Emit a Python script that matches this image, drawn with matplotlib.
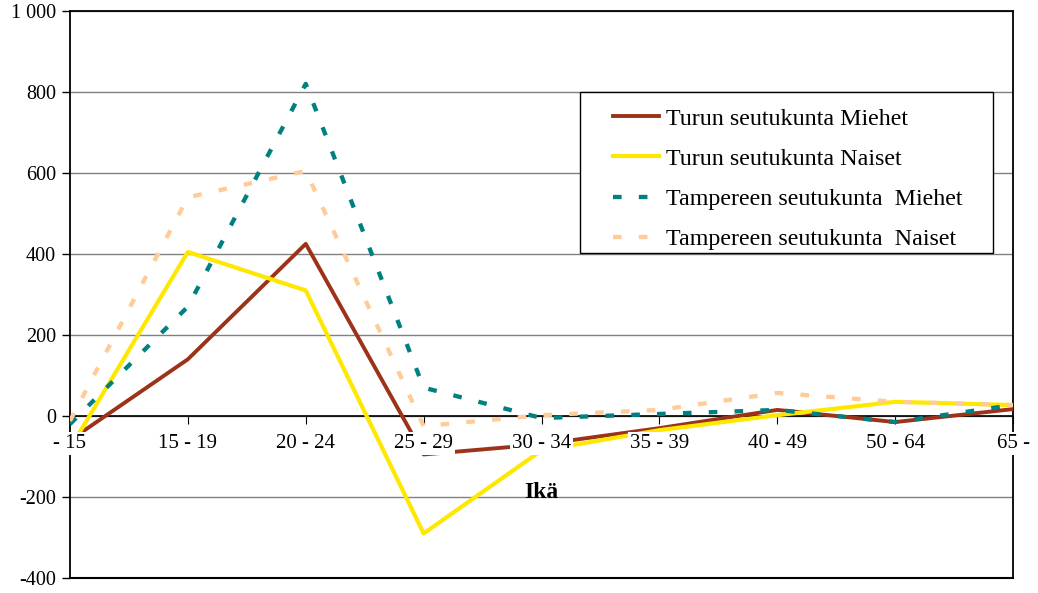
import matplotlib
matplotlib.use("Agg")
import matplotlib.pyplot as plt
from matplotlib.patches import Rectangle
import numpy as np

ages = ['- 15', '15 - 19', '20 - 24', '25 - 29', '30 - 34', '35 - 39', '40 - 49', '50 - 64', '65 -']
turku_men = [-60, 140, 425, -95, -70, -30, 15, -15, 17]
turku_women = [-80, 405, 310, -290, -85, -35, 2, 35, 27]
tampere_men = [-20, 270, 820, 70, -5, 5, 15, -15, 27]
tampere_women = [-12, 540, 605, -25, 2, 15, 57, 35, 27]
series_labels = ['Turun seutukunta Miehet', 'Turun seutukunta Naiset',
                 'Tampereen seutukunta  Miehet', 'Tampereen seutukunta  Naiset']
yticks = [-400, -200, 0, 200, 400, 600, 800, 1000]

plt.rcParams['font.family'] = ['Liberation Serif', 'DejaVu Serif']
fs = 14.5

fig = plt.figure(figsize=(10.38, 5.93), dpi=100)
ax = fig.add_axes([0.0674, 0.0253, 0.9086, 0.9562])

x = np.arange(len(ages))
ax.plot(x, turku_men, color='#9C3318', lw=2.8, label=series_labels[0], zorder=3)
ax.plot(x, turku_women, color='#FFE800', lw=3.0, label=series_labels[1], zorder=3)
ax.plot(x, tampere_men, color='#008080', lw=3.1, dashes=(2, 4), label=series_labels[2], zorder=3)
ax.plot(x, tampere_women, color='#FFCC99', lw=3.1, dashes=(2, 4), label=series_labels[3], zorder=3)

ax.set_xlim(0, len(ages) - 1)
ax.set_ylim(-400, 1000)
ax.set_yticks(yticks)
ax.set_yticklabels([f'{v:,}'.replace(',', ' ') for v in yticks], fontsize=fs)
ax.yaxis.grid(True, color='#808080', lw=1)
ax.set_axisbelow(True)
ax.tick_params(axis='y', direction='out', length=6, width=1, colors='black', pad=4)

# x axis sits on the zero line, the frame bottom stays at -400
ax.spines['bottom'].set_position(('data', 0))
ax.spines['bottom'].set_zorder(2)
ax.set_xticks(x)
ax.set_xticklabels([])
ax.tick_params(axis='x', direction='out', length=6, width=0.8)
ax.axhline(-400, color='black', lw=1.5, clip_on=False, zorder=2)
for s in ['left', 'right', 'top']:
    ax.spines[s].set_linewidth(1.3)
ax.spines['bottom'].set_linewidth(1.2)

for i, lab in enumerate(ages):
    ax.text(i, -67, lab, ha='center', va='center', fontsize=15, zorder=6, clip_on=False,
            bbox=dict(facecolor='white', edgecolor='none', pad=1.5))

ax.text(4, -188, 'Ikä', ha='center', va='center', fontsize=17, fontweight='bold')

# legend frame drawn separately so the inner padding can differ per side
ax.add_patch(Rectangle((0.541, 0.573), 0.438, 0.284, transform=ax.transAxes,
                       facecolor='white', edgecolor='black', lw=1, zorder=7))
leg = ax.legend(loc='upper left', bbox_to_anchor=(0.576, 0.829), frameon=False,
                fontsize=17.3, borderpad=0, labelspacing=0.76, handlelength=1.9,
                handletextpad=0.3, borderaxespad=0)
leg.set_zorder(8)

fig.savefig('out.png', dpi=100)
